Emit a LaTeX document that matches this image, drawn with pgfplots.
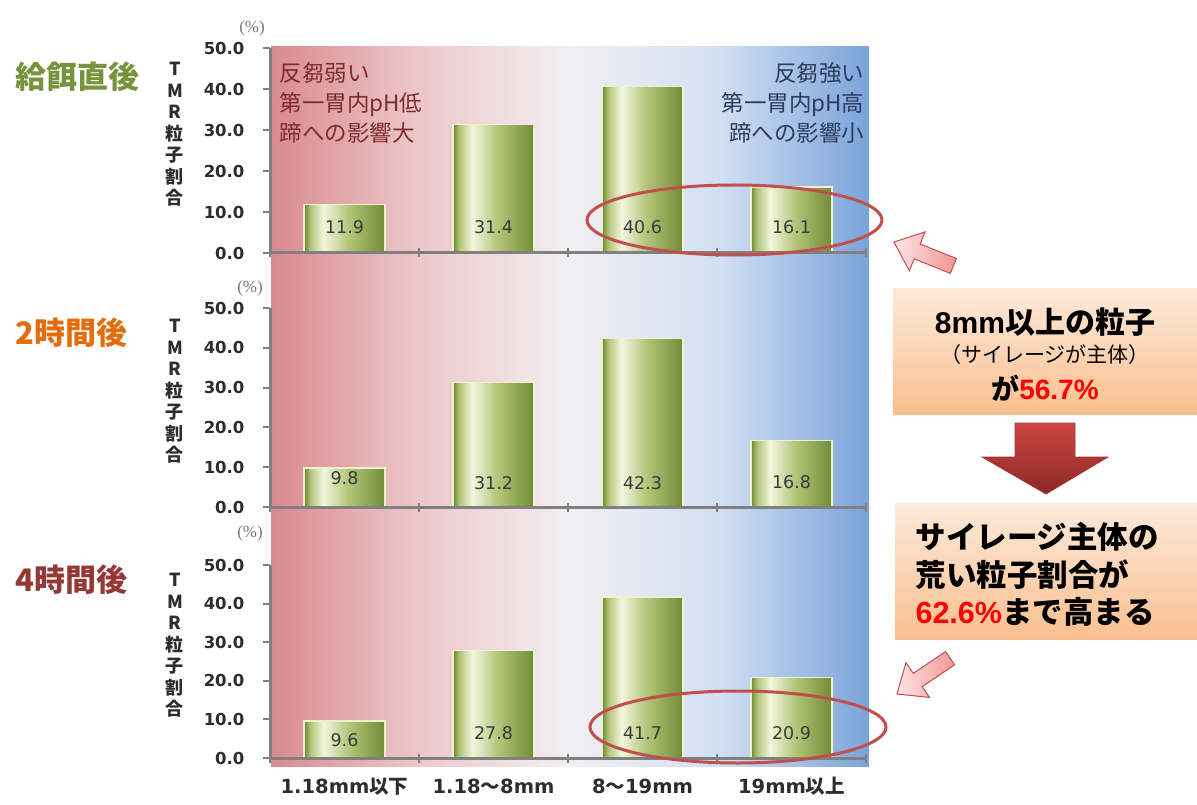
\documentclass[border=0pt]{standalone}
\usepackage{fontspec}
\usepackage{pgfplots}
\usepackage{pgfplotstable}
\pgfplotsset{compat=1.18}
\setmainfont{Noto Sans CJK JP}
\newfontfamily\dvs{DejaVu Sans}
\newfontfamily\lsans{Liberation Sans}
\newfontfamily\lserif{Liberation Serif}
\newcommand{\fs}[1]{\fontsize{#1}{#1}\selectfont}

\definecolor{axgray}{RGB}{128,128,128}
\definecolor{tickc}{RGB}{45,45,45}
\definecolor{valc}{RGB}{60,60,60}
\definecolor{pctgray}{RGB}{120,120,120}
\definecolor{ttlgreen}{RGB}{119,147,60}
\definecolor{ttlorange}{RGB}{228,108,10}
\definecolor{ttlred}{RGB}{149,55,53}
\definecolor{ellred}{RGB}{192,80,77}
\definecolor{lefttxt}{RGB}{125,45,45}
\definecolor{righttxt}{RGB}{45,60,95}
\definecolor{bgA}{RGB}{217,138,142}
\definecolor{bgB}{RGB}{237,200,203}
\definecolor{bgC}{RGB}{241,239,242}
\definecolor{bgD}{RGB}{210,223,242}
\definecolor{bgE}{RGB}{122,163,218}
\definecolor{barD}{RGB}{104,136,50}
\definecolor{barM}{RGB}{180,198,122}
\definecolor{barL}{RGB}{243,245,222}
\definecolor{barR}{RGB}{112,140,54}
\definecolor{barline}{RGB}{240,240,205}
\definecolor{boxT}{RGB}{253,234,219}
\definecolor{boxB}{RGB}{250,191,143}
\definecolor{arT}{RGB}{205,70,65}
\definecolor{arB}{RGB}{140,40,38}
\definecolor{arEdge}{RGB}{165,55,50}
\definecolor{paT}{RGB}{255,228,228}
\definecolor{paB}{RGB}{242,150,150}
\definecolor{paEdge}{RGB}{192,80,77}

\pgfdeclarehorizontalshading{bgshade}{100bp}{color(0bp)=(bgA); color(25bp)=(bgA); color(37.5bp)=(bgB); color(50bp)=(bgC); color(62.5bp)=(bgD); color(75bp)=(bgE); color(100bp)=(bgE)}
\pgfdeclarehorizontalshading{barshade}{100bp}{color(0bp)=(barD); color(25bp)=(barD); color(29bp)=(barM); color(37bp)=(barL); color(52bp)=(barM); color(75bp)=(barR); color(100bp)=(barR)}

\pgfplotstableread{
x y lab
0 6.2 11.9
1 6.2 31.4
2 6.2 40.6
3 6.2 16.1
}\lA
\pgfplotstableread{
x y lab
0 7.3 9.8
1 6.0 31.2
2 6.0 42.3
3 6.2 16.8
}\lB
\pgfplotstableread{
x y lab
0 4.7 9.6
1 6.5 27.8
2 6.5 41.7
3 6.5 20.9
}\lC

\pgfplotsset{panel/.style={
  scale only axis, width=596pt, xmin=-0.5, xmax=3.5, ymin=0, ymax=50,
  axis on top, clip=false,
  axis x line*=bottom, axis y line*=left,
  axis line style={draw=axgray, line width=3pt},
  xtick={0,1,2,3}, minor xtick={-0.5,0.5,1.5,2.5,3.5},
  major x tick style={draw=none},
  minor x tick style={draw=axgray, line width=2.5pt},
  minor tick length=9pt, xtick align=center,
  ytick={0,10,20,30,40,50},
  ytick style={draw=axgray, line width=2pt}, major tick length=7pt, ytick align=outside,
  yticklabel style={font=\dvs\bfseries\fs{16.5}, text=tickc, xshift=-15pt, /pgf/number format/.cd, fixed, fixed zerofill, precision=1, assume math mode=true},
  xticklabel style={font=\bfseries\fs{19.5}, text=tickc, text height=15pt, text depth=4pt, yshift=-13pt},
  ylabel={T\\M\\R\\粒\\子\\割\\合},
  ylabel style={at={(rel axis cs:0,0.5)}, rotate=-90, anchor=center, align=center, xshift=-95pt, yshift=16pt, font=\bfseries\fontsize{18}{21.5}\selectfont, text=tickc},
}}
\pgfplotsset{bars/.style={ybar, bar shift=0pt, bar width=81pt, shading=barshade, draw=barline, line width=1.2pt},
  vals/.style={draw=none, mark=none, nodes near coords, point meta=explicit symbolic, nodes near coords style={anchor=center, font=\dvs\fs{17.5}, text=valc}}}

\begin{document}
\begin{tikzpicture}
\useasboundingbox (0pt,0pt) rectangle (1197pt,-805pt);
\shade[shading=bgshade] (271pt,-47pt) rectangle (869pt,-766pt);

% panel 1
\begin{axis}[panel, at={(270pt,-253pt)}, anchor=south west, height=205pt, xticklabels={,,,}]
\addplot[bars] coordinates {(0,11.9)};
\addplot[bars] coordinates {(1,31.4)};
\addplot[bars] coordinates {(2,40.6)};
\addplot[bars] coordinates {(3,16.1)};
\addplot[vals] table[x=x,y=y,meta=lab] {\lA};
\end{axis}
% panel 2
\begin{axis}[panel, at={(270pt,-507pt)}, anchor=south west, height=199pt, xticklabels={,,,}]
\addplot[bars] coordinates {(0,9.8)};
\addplot[bars] coordinates {(1,31.2)};
\addplot[bars] coordinates {(2,42.3)};
\addplot[bars] coordinates {(3,16.8)};
\addplot[vals] table[x=x,y=y,meta=lab] {\lB};
\end{axis}
% panel 3
\begin{axis}[panel, at={(270pt,-758pt)}, anchor=south west, height=193pt,
  xticklabels={{\dvs 1.18mm}以下, {\dvs 1.18}～{\dvs 8mm}, {\dvs 8}～{\dvs 19mm}, {\dvs 19mm}以上}]
\addplot[bars] coordinates {(0,9.6)};
\addplot[bars] coordinates {(1,27.8)};
\addplot[bars] coordinates {(2,41.7)};
\addplot[bars] coordinates {(3,20.9)};
\addplot[vals] table[x=x,y=y,meta=lab] {\lC};
\end{axis}

% (%) labels
\node[font=\lserif\fs{17}, text=pctgray] at (252pt,-28pt) {(\%)};
\node[font=\lserif\fs{17}, text=pctgray] at (250pt,-288pt) {(\%)};
\node[font=\lserif\fs{17}, text=pctgray] at (250pt,-533pt) {(\%)};

% titles
\node[anchor=west, font=\bfseries\fs{31}, text=ttlgreen] at (12pt,-77pt) {給餌直後};
\node[anchor=west, font=\bfseries\fs{31}, text=ttlorange] at (12pt,-333pt) {2時間後};
\node[anchor=west, font=\bfseries\fs{31}, text=ttlred] at (12pt,-580pt) {4時間後};

% annotations panel 1
\node[anchor=west, align=left, text=lefttxt, font=\fontsize{22.5}{30}\selectfont] at (276pt,-103pt) {反芻弱い\\第一胃内pH低\\蹄への影響大};
\node[anchor=east, align=right, text=righttxt, font=\fontsize{22.5}{30}\selectfont] at (868pt,-103pt) {反芻強い\\第一胃内pH高\\蹄への影響小};

% ellipses
\draw[ellred, line width=3pt] (734.5pt,-220pt) ellipse [x radius=147.5pt, y radius=35pt];
\draw[ellred, line width=3pt] (738pt,-727pt) ellipse [x radius=148pt, y radius=36pt];

% right boxes
\shade[top color=boxT, bottom color=boxB] (893pt,-288pt) rectangle (1197pt,-414pt);
\node[font=\bfseries\fs{30}] at (1045pt,-322pt) {{\lsans 8mm}以上の粒子};
\node[font=\fs{21}] at (1045pt,-355pt) {（サイレージが主体）};
\node[font=\bfseries\fs{28}] at (1045pt,-388pt) {が{\lsans\color{red}56.7\%}};

\shadedraw[top color=arT, bottom color=arB, draw=arEdge, line width=0.8pt] (1015pt,-423pt) -- (1075pt,-423pt) -- (1075pt,-457pt) -- (1108pt,-457pt) -- (1046pt,-494pt) -- (982pt,-457pt) -- (1015pt,-457pt) -- cycle;

\shade[top color=boxT, bottom color=boxB] (895pt,-503pt) rectangle (1197pt,-639pt);
\node[anchor=west, font=\bfseries\fs{30.5}] at (912pt,-537pt) {サイレージ主体の};
\node[anchor=west, font=\bfseries\fs{30.5}] at (912pt,-575pt) {荒い粒子割合が};
\node[anchor=west, font=\bfseries\fs{30.5}] at (912pt,-612pt) {{\lsans\color{red}62.6\%}まで高まる};

% small arrows
\begin{scope}[shift={(894pt,-242pt)}, rotate=-22]
\shadedraw[left color=paT, right color=paB, draw=paEdge, line width=1pt] (0,0) -- (25pt,21pt) -- (25pt,8pt) -- (64pt,8pt) -- (64pt,-8pt) -- (25pt,-8pt) -- (25pt,-21pt) -- cycle;
\end{scope}
\begin{scope}[shift={(897pt,-694pt)}, rotate=34]
\shadedraw[left color=paT, right color=paB, draw=paEdge, line width=1pt] (0,0) -- (25pt,21pt) -- (25pt,8pt) -- (64pt,8pt) -- (64pt,-8pt) -- (25pt,-8pt) -- (25pt,-21pt) -- cycle;
\end{scope}
\end{tikzpicture}
\end{document}
